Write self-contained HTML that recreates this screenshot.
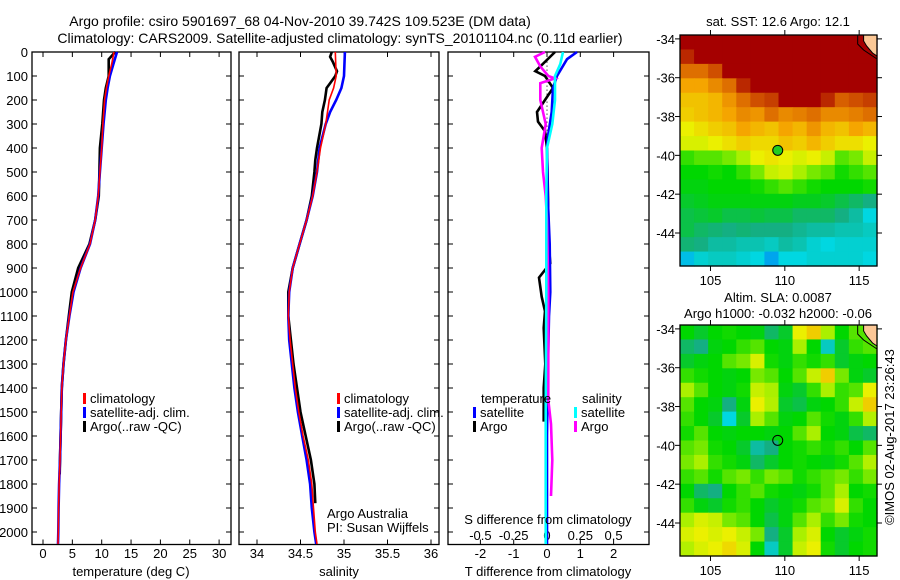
<!DOCTYPE html>
<html><head><meta charset="utf-8"><style>
body{margin:0;background:#fff;}
svg{display:block;font-family:"Liberation Sans",sans-serif;}
text{fill:#000;}
</style></head><body>
<svg id="fig" width="900" height="580" xmlns="http://www.w3.org/2000/svg">
<text x="300" y="26" font-size="14" text-anchor="middle">Argo profile: csiro 5901697_68 04-Nov-2010 39.742S 109.523E (DM data)</text>
<text x="340" y="43" font-size="14" text-anchor="middle">Climatology: CARS2009. Satellite-adjusted climatology: synTS_20101104.nc (0.11d earlier)</text>
<g id="g"></g>
</svg>
<script>
// ---------- data ----------
const tDepth=[0,50,100,150,200,300,400,500,600,700,800,900,1000,1100,1200,1300,1400,1500,1600,1700,1800,1900,2000,2050];
const tClim=[12.1,11.7,11.2,10.8,10.5,10.2,10.0,9.7,9.4,8.9,8.0,6.4,5.1,4.5,3.9,3.5,3.2,3.1,3.0,2.9,2.75,2.65,2.6,2.55];
const tSat=[12.6,12.0,11.4,11.0,10.7,10.3,10.0,9.7,9.4,8.9,8.0,6.4,5.2,4.5,3.9,3.5,3.2,3.1,3.0,2.9,2.75,2.65,2.6,2.55];
const tArgoDepth=[0,30,100,150,200,300,400,500,600,700,800,900,1000,1100,1200,1300,1400,1500,1600,1700,1760];
const tArgo=[12.3,11.2,11.2,10.7,10.4,10.1,9.7,9.6,9.5,8.9,7.9,6.0,4.9,4.4,3.9,3.5,3.2,3.1,3.0,2.9,2.85];
const sDepth=[0,100,150,200,250,300,400,500,600,700,800,900,1000,1100,1200,1300,1400,1500,1600,1700,1800,1900,2000,2050];
const sClim=[34.90,34.91,34.88,34.83,34.81,34.79,34.73,34.69,34.64,34.57,34.49,34.41,34.37,34.36,34.38,34.41,34.44,34.48,34.53,34.59,34.63,34.65,34.67,34.69];
const sSat=[35.01,35.00,34.97,34.91,34.84,34.79,34.72,34.69,34.64,34.57,34.49,34.41,34.37,34.36,34.37,34.40,34.43,34.47,34.52,34.57,34.61,34.63,34.66,34.68];
const sArgoDepth=[0,20,40,80,100,130,150,200,250,300,400,450,500,600,700,800,900,1000,1100,1200,1300,1400,1500,1600,1700,1800,1880];
const sArgo=[34.86,34.84,34.87,34.92,34.90,34.84,34.80,34.78,34.75,34.74,34.69,34.67,34.66,34.63,34.57,34.49,34.41,34.36,34.36,34.39,34.42,34.46,34.50,34.56,34.62,34.66,34.67];
const dTArgoDepth=[0,60,80,100,150,250,290,330,400,600,800,880,940,1020,1080,1150,1300,1400,1540];
const dTArgo=[0.24,-0.2,-0.35,-0.06,0.18,-0.3,-0.27,-0.06,0,0.03,0.05,0.1,-0.24,-0.16,-0.06,-0.1,-0.05,-0.1,-0.1];
const dTSatDepth=[0,30,100,150,250,350,400,600,800,1000,1100,1300,1600,1900,2050];
const dTSat=[0.9,0.6,0.3,0.18,0.14,0.03,0,0.02,0.08,0.1,0.06,0.03,0,0,0];
const dSArgoDepth=[0,20,60,100,110,130,200,300,400,500,600,700,1000,1300,1450,1550,1700,1850];
const dSArgo=[-0.015,-0.09,-0.05,0.01,0.06,-0.05,-0.05,-0.01,-0.04,-0.03,-0.01,0,0.01,0.01,0.01,0.03,0.04,0.03];
const dSSatDepth=[0,50,100,200,300,400,600,1000,1500,2050];
const dSSat=[0.12,0.1,0.06,0.06,0.04,0,-0.005,-0.005,-0.01,-0.01];
const depthTicks=[0,100,200,300,400,500,600,700,800,900,1000,1100,1200,1300,1400,1500,1600,1700,1800,1900,2000];
const tempTicks=[0,5,10,15,20,25,30];
const salTicks=[34,34.5,35,35.5,36];
const tDiffTicks=[-2,-1,0,1,2];
const sDiffTicks=[-0.5,-0.25,0,0.25,0.5];
const sDiffLabels=["-0.5","-0.25","0","0.25","0.5"];
const latTicks=[-34,-36,-38,-40,-42,-44];
const lonTicks=[105,110,115];
const argoLon=109.523, argoLat=-39.742;
const sstGrid=[
[1,1,1,1,1,1,1,1,1,1,1,1,1,1],
[0.95,1,1,1,1,1,1,1,1,1,1,1,1,1],
[0.85,0.85,0.9,1,1,1,1,1,1,1,1,1,1,1],
[0.75,0.75,0.8,0.85,0.95,1,1,1,1,1,1,1,1,1],
[0.7,0.7,0.72,0.78,0.85,0.9,0.92,1,1,1,0.95,0.88,0.9,0.92],
[0.68,0.7,0.72,0.75,0.8,0.78,0.85,0.8,0.82,0.85,0.8,0.8,0.82,0.85],
[0.62,0.65,0.68,0.7,0.75,0.72,0.7,0.75,0.72,0.78,0.72,0.7,0.75,0.72],
[0.6,0.6,0.62,0.65,0.68,0.66,0.66,0.7,0.68,0.72,0.68,0.65,0.65,0.62],
[0.48,0.5,0.5,0.52,0.55,0.62,0.64,0.62,0.6,0.62,0.58,0.5,0.52,0.58],
[0.45,0.45,0.46,0.45,0.48,0.52,0.58,0.6,0.55,0.52,0.5,0.46,0.48,0.5],
[0.44,0.44,0.45,0.45,0.45,0.46,0.48,0.5,0.48,0.46,0.45,0.45,0.45,0.46],
[0.42,0.43,0.44,0.44,0.44,0.44,0.44,0.44,0.43,0.43,0.42,0.4,0.38,0.36],
[0.4,0.41,0.42,0.4,0.4,0.41,0.4,0.4,0.38,0.38,0.38,0.36,0.34,0.3],
[0.4,0.38,0.37,0.36,0.37,0.36,0.36,0.36,0.35,0.34,0.34,0.33,0.33,0.32],
[0.37,0.36,0.34,0.34,0.33,0.33,0.32,0.34,0.33,0.31,0.3,0.31,0.31,0.31],
[0.28,0.31,0.32,0.32,0.31,0.3,0.26,0.3,0.3,0.31,0.31,0.31,0.31,0.3]];
const slaGrid=[
[0.45,0.42,0.45,0.46,0.45,0.44,0.38,0.42,0.62,0.68,0.55,0.45,0.5,0.5],
[0.38,0.36,0.44,0.45,0.48,0.5,0.45,0.44,0.55,0.45,0.32,0.42,0.48,0.5],
[0.42,0.44,0.45,0.5,0.52,0.6,0.46,0.44,0.48,0.46,0.48,0.42,0.44,0.45],
[0.48,0.46,0.45,0.44,0.45,0.52,0.5,0.45,0.5,0.58,0.68,0.52,0.44,0.42],
[0.55,0.5,0.45,0.44,0.46,0.58,0.55,0.44,0.42,0.48,0.55,0.48,0.5,0.62],
[0.5,0.45,0.44,0.36,0.44,0.62,0.56,0.42,0.4,0.44,0.45,0.48,0.58,0.68],
[0.48,0.45,0.42,0.3,0.42,0.55,0.5,0.44,0.45,0.5,0.46,0.44,0.48,0.56],
[0.46,0.5,0.45,0.44,0.45,0.45,0.44,0.45,0.5,0.55,0.45,0.44,0.4,0.38],
[0.5,0.52,0.46,0.45,0.42,0.34,0.36,0.45,0.46,0.48,0.46,0.48,0.45,0.5],
[0.52,0.55,0.48,0.46,0.44,0.38,0.42,0.45,0.46,0.45,0.44,0.46,0.5,0.56],
[0.48,0.5,0.46,0.5,0.52,0.48,0.52,0.5,0.46,0.48,0.5,0.52,0.48,0.52],
[0.45,0.38,0.36,0.45,0.48,0.5,0.46,0.45,0.44,0.46,0.5,0.55,0.45,0.46],
[0.48,0.44,0.42,0.46,0.48,0.45,0.42,0.44,0.46,0.5,0.52,0.6,0.48,0.45],
[0.55,0.6,0.58,0.52,0.5,0.45,0.4,0.44,0.5,0.55,0.48,0.52,0.46,0.45],
[0.6,0.62,0.6,0.62,0.58,0.52,0.36,0.42,0.55,0.6,0.45,0.42,0.44,0.46],
[0.56,0.6,0.62,0.66,0.6,0.45,0.32,0.42,0.58,0.62,0.46,0.42,0.45,0.46]];

// ---------- helpers ----------
const NS="http://www.w3.org/2000/svg";
const G=document.getElementById('g');
function el(tag,attrs,parent){const e=document.createElementNS(NS,tag);for(const k in attrs)e.setAttribute(k,attrs[k]);(parent||G).appendChild(e);return e;}
function txt(x,y,s,size,anchor,parent){const t=el('text',{x:x,y:y,'font-size':size||13,'text-anchor':anchor||'start'},parent);t.textContent=s;return t;}
const Y0=52, YS=0.24, YBOT=544.5;
const yD=d=>Y0+d*YS;

function panel(name,x0,x1){
  const r=el('rect',{x:x0,y:Y0,width:x1-x0,height:YBOT-Y0,fill:'none',stroke:'#000','stroke-width':1.3});
  
  
  depthTicks.forEach(d=>{el('line',{x1:x0,x2:x0+5,y1:yD(d),y2:yD(d),stroke:'#000'});el('line',{x1:x1,x2:x1-5,y1:yD(d),y2:yD(d),stroke:'#000'});});
}
function xticks(vals,fx,labels,ly){
  vals.forEach((v,i)=>{const x=fx(v);el('line',{x1:x,x2:x,y1:Y0,y2:Y0+5,stroke:'#000'});el('line',{x1:x,x2:x,y1:YBOT,y2:YBOT-5,stroke:'#000'});
    const t=txt(x,ly,labels?labels[i]:String(v),13,'middle');
    
    });
}
function line(name,xs,ds,fx,color,w){
  const pts=xs.map((v,i)=>fx(v).toFixed(1)+','+yD(ds[i]).toFixed(1)).join(' ');
  const p=el('polyline',{points:pts,fill:'none',stroke:color,'stroke-width':w||2.6,'stroke-linejoin':'miter'});
  
  
}
function legendEntry(x,y,color,label){
  el('rect',{x:x,y:y-10,width:3,height:11,fill:color});
  const t=txt(x+7,y,label,13);
  
  
}

// depth labels
depthTicks.forEach(d=>{const t=txt(28,yD(d)+5,String(d),13,'end');
  
  });

// ---------- panel 1 temperature ----------
const tx=v=>43+v*5.87;
panel('temperature-panel',32,231);
xticks(tempTicks,tx,null,558);
line('temp-argo',tArgo,tArgoDepth,tx,'#000');
line('temp-satellite',tSat,tDepth,tx,'#0000ff');
line('temp-climatology',tClim,tDepth,tx,'#ff0000',1.6);
let a=txt(131,576,'temperature (deg C)',13,'middle');
legendEntry(83,403,'#ff0000','climatology');
legendEntry(83,417,'#0000ff','satellite-adj. clim.');
legendEntry(83,431,'#000','Argo(..raw -QC)');

// ---------- panel 2 salinity ----------
const sx=v=>257+(v-34)*87;
panel('salinity-panel',239,439);
xticks(salTicks,sx,null,558);
line('sal-argo',sArgo,sArgoDepth,sx,'#000');
line('sal-satellite',sSat,sDepth,sx,'#0000ff');
line('sal-climatology',sClim,sDepth,sx,'#ff0000',1.6);
a=txt(339,576,'salinity',13,'middle');
legendEntry(337,403,'#ff0000','climatology');
legendEntry(337,417,'#0000ff','satellite-adj. clim.');
legendEntry(337,431,'#000','Argo(..raw -QC)');
a=txt(327,518,'Argo Australia',13);
a=txt(327,532,'PI: Susan Wijffels',13);

// ---------- panel 3 differences ----------
const dx=v=>547+v*33.3;
const dsx=v=>547+v*133.2;
panel('difference-panel',448,649);
xticks(tDiffTicks,dx,null,558);
sDiffTicks.forEach((v,i)=>{const t=txt(dsx(v),540,sDiffLabels[i],13,'middle');});
el('line',{x1:547,x2:547,y1:yD(40),y2:yD(420),stroke:'#000','stroke-dasharray':'1 3'});
line('tdiff-argo',dTArgo,dTArgoDepth,dx,'#000');
line('tdiff-satellite',dTSat,dTSatDepth,dx,'#0000ff');
line('sdiff-argo',dSArgo,dSArgoDepth,dsx,'#ff00ff');
line('sdiff-satellite',dSSat,dSSatDepth,dsx,'#00ffff');
a=txt(548,524,'S difference from climatology',13,'middle');
a=txt(548,576,'T difference from climatology',13,'middle');
a=txt(481,403,'temperature',13);
a=txt(582,403,'salinity',13);
legendEntry(473,417,'#0000ff','satellite');
legendEntry(473,431,'#000','Argo');
legendEntry(574,417,'#00ffff','satellite');
legendEntry(574,431,'#ff00ff','Argo');

// ---------- maps ----------
const stops=[[0.2,[0,90,255]],[0.3,[0,215,225]],[0.36,[20,175,130]],[0.45,[0,215,0]],[0.55,[170,240,0]],[0.62,[235,240,0]],[0.75,[245,165,0]],[0.88,[215,95,0]],[1.0,[165,0,0]]];
function cmap(v){
  if(v<=stops[0][0])return 'rgb('+stops[0][1]+')';
  for(let i=1;i<stops.length;i++){if(v<=stops[i][0]){const [a0,c0]=stops[i-1],[a1,c1]=stops[i];const f=(v-a0)/(a1-a0);
    return 'rgb('+c0.map((c,j)=>Math.round(c+(c1[j]-c)*f)).join(',')+')';}}
  return 'rgb('+stops[stops.length-1][1]+')';
}
function map(name,top,grid,fillDot){
  const L=680,R=877,B=top+231, lonMin=102.95,lonMax=116.2, latTop=-33.8, latBot=-45.7;
  const lx=v=>L+(v-lonMin)/(lonMax-lonMin)*(R-L);
  const ly=v=>top+(v-latTop)/(latBot-latTop)*(B-top);
  const g=el('g',{});
  
  
  const rows=grid.length, cols=grid[0].length, cw=(R-L)/cols, ch=(B-top)/rows;
  grid.forEach((row,r)=>row.forEach((v,c)=>{
    const cell=el('rect',{x:L+c*cw,y:top+r*ch,width:cw+0.6,height:ch+0.6,fill:cmap(v)},g);
    
    
  }));
  el('polygon',{points:`${lx(115.3)},${top} ${R},${top} ${R},${top+21} ${lx(115.9)},${top+18} ${lx(115.5)},${top+11} ${lx(115.3)},${top+6}`,fill:'#fcc896'},g);
  el('polyline',{points:`${lx(114.9)},${top} ${lx(114.9)},${top+9} ${lx(115.3)},${top+15} ${lx(115.9)},${top+21} ${R},${top+24}`,fill:'none',stroke:'#000','stroke-width':1},g);
  el('polyline',{points:`${lx(115.3)},${top} ${lx(115.3)},${top+6} ${lx(115.5)},${top+11} ${lx(115.9)},${top+18} ${R},${top+21}`,fill:'none',stroke:'#000','stroke-width':1},g);
  el('rect',{x:L,y:top,width:R-L,height:B-top,fill:'none',stroke:'#000','stroke-width':1.3},g);
  latTicks.forEach(v=>{const y=ly(v);el('line',{x1:L-5,x2:L,y1:y,y2:y,stroke:'#000'},g);el('line',{x1:R,x2:R+5,y1:y,y2:y,stroke:'#000'},g);
    const t=txt(L-5,y+5,String(v),13,'end',g);});
  lonTicks.forEach(v=>{const x=lx(v);el('line',{x1:x,x2:x,y1:top-5,y2:top,stroke:'#000'},g);el('line',{x1:x,x2:x,y1:B,y2:B+5,stroke:'#000'},g);
    const t=txt(x,B+19,String(v),13,'middle',g);});
  const dot=el('circle',{cx:lx(argoLon),cy:ly(argoLat),r:5,fill:fillDot?'#22cc22':'none',stroke:'#000','stroke-width':1},g);
  
  
}
map('sst-map',35,sstGrid,true);
map('sla-map',325,slaGrid,false);
a=txt(778,26,'sat. SST: 12.6 Argo: 12.1',13,'middle');
a=txt(778,302,'Altim. SLA: 0.0087',13,'middle');
a=txt(778,318,'Argo h1000: -0.032 h2000: -0.06',13,'middle');
a=txt(0,0,'©IMOS 02-Aug-2017 23:26:43',13,'middle');a.setAttribute('transform','translate(894,437) rotate(-90)');

</script>
</body></html>
